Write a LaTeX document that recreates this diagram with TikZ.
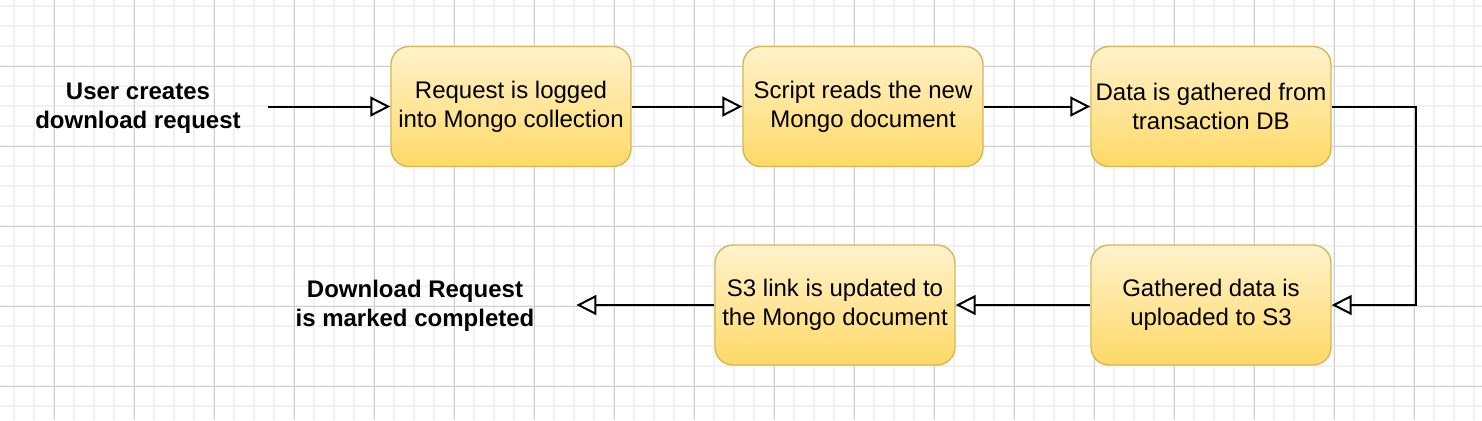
\documentclass[tikz,border=0pt]{standalone}
\usepackage{fontspec}
\setmainfont{Liberation Sans}
\usetikzlibrary{arrows.meta}
\definecolor{boxfill}{HTML}{FFF2CC}
\definecolor{boxgrad}{HTML}{FFD966}
\definecolor{boxline}{HTML}{D6B656}
\definecolor{gridminor}{HTML}{F1F1F1}
\definecolor{gridmajor}{HTML}{CFCFCF}

\begin{document}
\begin{tikzpicture}[x=0.5pt,y=-0.5pt,
	procbox/.style={draw=boxline,line width=0.7pt,rounded corners=9pt,top color=boxfill,bottom color=boxgrad,
		minimum width=120pt,minimum height=60pt,inner sep=0pt,align=center,font=\fontsize{12}{14.5}\selectfont},
	endtext/.style={align=center,inner sep=0pt,font=\fontsize{12}{14.5}\selectfont\bfseries},
	flowarrow/.style={line width=1pt,-{Triangle[length=10pt,width=10pt,fill=white]}}]
		\useasboundingbox (0,0) rectangle (1482,420);
		\fill[white] (0,0) rectangle (1482,420);
		%grid
		\foreach \gx in {14,34,...,1474} \draw[gridminor,line width=0.8pt] (\gx,0) -- (\gx,420);
		\foreach \gy in {6,26,...,406} \draw[gridminor,line width=0.8pt] (0,\gy) -- (1482,\gy);
		\foreach \gx in {54,134,...,1414} \draw[gridmajor,line width=0.5pt] (\gx,0) -- (\gx,420);
		\foreach \gy in {66,146,...,386} \draw[gridmajor,line width=0.5pt] (0,\gy) -- (1482,\gy);
		
		%top row
		\node[endtext,minimum width=130pt] (user) at (138,108) {User creates\\download request};
		\node[procbox] (logged) at (511,106.5) {Request is logged\\into Mongo collection};
		\node[procbox] (reads) at (863,106.5) {Script reads the new\\Mongo document};
		\node[procbox] (gathered) at (1211,106.5) {Data is gathered from\\transaction DB};
		
		%bottom row
		\node[procbox] (uploaded) at (1211,305) {Gathered data is\\uploaded to S3};
		\node[procbox] (s3link) at (835,305) {S3 link is updated to\\the Mongo document};
		\node[endtext,minimum width=161pt] (done) at (415,306) {Download Request\\is marked completed};
		
		\draw[flowarrow] (user.east |- logged.west) -- (logged);
		\draw[flowarrow] (logged) -- (reads);
		\draw[flowarrow] (reads) -- (gathered);
		\draw[flowarrow] (gathered.east) -- ++(84,0) |- (uploaded.east);
		\draw[flowarrow] (uploaded) -- (s3link);
		\draw[flowarrow] (s3link) -- (done.east |- s3link.west);
\end{tikzpicture}
\end{document}
